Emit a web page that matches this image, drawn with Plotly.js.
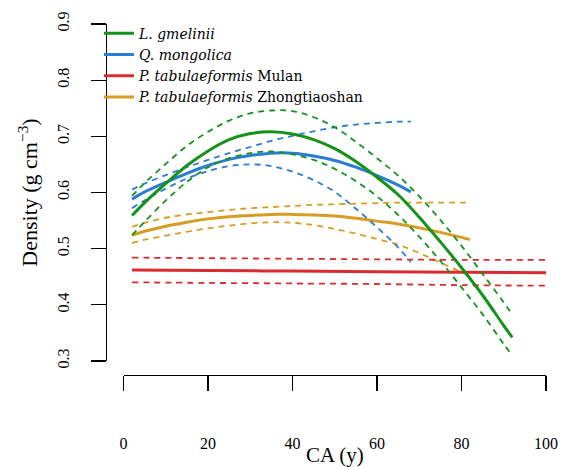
<!DOCTYPE html>
<html>
<head>
<meta charset="utf-8">
<script src="https://cdn.plot.ly/plotly-3.0.1.min.js"></script>
<style>
  html, body { margin: 0; padding: 0; background: #ffffff; }
  #chart { width: 562px; height: 467px; }
</style>
</head>
<body>
<div id="chart"></div>
<script>
// Wood density against cambial age (CA): fitted curve with dashed confidence bands

// Larix gmelinii
const ageGmelinii = [2, 5, 10, 15, 20, 25, 30, 35, 40, 45, 50, 55, 60, 65, 70, 75, 80, 85, 90, 92];
const fitGmelinii = [0.559, 0.582, 0.616, 0.648, 0.674, 0.694, 0.705, 0.708, 0.704, 0.694, 0.678, 0.655, 0.627, 0.596, 0.556, 0.512, 0.466, 0.417, 0.363, 0.342];
const upGmelinii  = [0.594, 0.617, 0.651, 0.683, 0.708, 0.728, 0.741, 0.746, 0.745, 0.734, 0.716, 0.690, 0.661, 0.630, 0.593, 0.551, 0.505, 0.455, 0.404, 0.383];
const lowGmelinii = [0.524, 0.548, 0.586, 0.619, 0.645, 0.661, 0.670, 0.673, 0.668, 0.658, 0.642, 0.620, 0.593, 0.560, 0.521, 0.478, 0.431, 0.383, 0.330, 0.310];

// Quercus mongolica
const ageMongolica = [2, 5, 10, 15, 20, 25, 30, 35, 40, 45, 50, 55, 60, 65, 68];
const fitMongolica = [0.588, 0.601, 0.618, 0.634, 0.648, 0.659, 0.666, 0.670, 0.670, 0.665, 0.657, 0.645, 0.630, 0.613, 0.601];
const upMongolica  = [0.605, 0.616, 0.631, 0.645, 0.658, 0.670, 0.681, 0.692, 0.701, 0.709, 0.716, 0.721, 0.724, 0.726, 0.726];
const lowMongolica = [0.572, 0.586, 0.607, 0.625, 0.638, 0.647, 0.650, 0.647, 0.637, 0.622, 0.601, 0.571, 0.538, 0.502, 0.476];

// Pinus tabulaeformis, Mulan
const ageMulan = [2, 20, 40, 60, 80, 100];
const fitMulan = [0.462, 0.461, 0.460, 0.459, 0.458, 0.457];
const upMulan  = [0.484, 0.483, 0.482, 0.481, 0.480, 0.480];
const lowMulan = [0.440, 0.439, 0.438, 0.437, 0.435, 0.434];

// Pinus tabulaeformis, Zhongtiaoshan
const ageZhong = [2, 5, 10, 15, 20, 25, 30, 35, 40, 45, 50, 55, 60, 65, 70, 75, 80, 82];
const fitZhong = [0.524, 0.531, 0.540, 0.547, 0.553, 0.557, 0.559, 0.561, 0.561, 0.560, 0.558, 0.554, 0.549, 0.544, 0.537, 0.529, 0.520, 0.516];
const upZhong  = [0.539, 0.546, 0.555, 0.561, 0.565, 0.569, 0.572, 0.574, 0.576, 0.578, 0.579, 0.580, 0.581, 0.582, 0.582, 0.582, 0.582, 0.582];
const lowZhong = [0.510, 0.516, 0.523, 0.530, 0.536, 0.541, 0.545, 0.547, 0.546, 0.542, 0.535, 0.527, 0.517, 0.507, 0.492, 0.475, 0.458, 0.451];

const seriesNames = [
  '<i>L. gmelinii</i>',
  '<i>Q. mongolica</i>',
  '<i>P. tabulaeformis</i> Mulan',
  '<i>P. tabulaeformis</i> Zhongtiaoshan'
];

const xTicks = [0, 20, 40, 60, 80, 100];
const yTicks = [0.3, 0.4, 0.5, 0.6, 0.7, 0.8, 0.9];

const SERIF = 'Liberation Serif';
const LEGEND_SERIF = 'DejaVu Serif';

function group(x, fit, up, low, name, color, rank) {
  const dashed = { color: color, width: 1.8, dash: '6px,5px', shape: 'spline', smoothing: 1 };
  return [
    { x: x, y: up,  type: 'scatter', mode: 'lines', line: dashed, showlegend: false, hoverinfo: 'skip' },
    { x: x, y: low, type: 'scatter', mode: 'lines', line: dashed, showlegend: false, hoverinfo: 'skip' },
    { x: x, y: fit, type: 'scatter', mode: 'lines', name: name, legendrank: rank,
      line: { color: color, width: 3, shape: 'spline', smoothing: 1 } }
  ];
}

// Drawn back to front; legend order set through legendrank
const traces = [].concat(
  group(ageZhong, fitZhong, upZhong, lowZhong, seriesNames[3], '#d69d22', 4),
  group(ageMulan, fitMulan, upMulan, lowMulan, seriesNames[2], '#d92b30', 3),
  group(ageMongolica, fitMongolica, upMongolica, lowMongolica, seriesNames[1], '#2a7dd2', 2),
  group(ageGmelinii, fitGmelinii, upGmelinii, lowGmelinii, seriesNames[0], '#14921a', 1)
);

const layout = {
  width: 562,
  height: 467,
  margin: { l: 106, r: 16, t: 24, b: 92, pad: 0 },
  paper_bgcolor: '#ffffff',
  plot_bgcolor: '#ffffff',
  font: { family: SERIF, color: '#000000', size: 15 },
  showlegend: true,
  legend: {
    x: -0.016, y: 1.018, xanchor: 'left', yanchor: 'top',
    bgcolor: 'rgba(0,0,0,0)',
    font: { family: LEGEND_SERIF, size: 14, color: '#000000' },
    itemwidth: 30,
    tracegroupgap: 0
  },
  xaxis: {
    domain: [0.04, 1],
    range: [0, 100],
    anchor: 'free',
    position: 0,
    showline: true, linecolor: '#000000', linewidth: 1.3,
    ticks: 'outside', ticklen: 15, tickwidth: 1.3, tickcolor: '#000000',
    tickvals: xTicks,
    ticktext: xTicks.map(String),
    ticklabelstandoff: 38,
    tickfont: { family: SERIF, size: 16, color: '#000000' },
    showgrid: false, zeroline: false,
    title: { text: 'CA (y)', font: { family: SERIF, size: 21 }, standoff: 8 }
  },
  yaxis: {
    domain: [0.04, 1],
    range: [0.3, 0.9],
    anchor: 'free',
    position: 0,
    showline: true, linecolor: '#000000', linewidth: 1.3,
    ticks: 'outside', ticklen: 15, tickwidth: 1.3, tickcolor: '#000000',
    tickvals: yTicks,
    ticktext: yTicks.map(v => v.toFixed(1)),
    tickangle: -90,
    ticklabelstandoff: 16,
    tickfont: { family: SERIF, size: 16, color: '#000000' },
    showgrid: false, zeroline: false,
    title: { text: 'Density (g cm<sup>−3</sup>)', font: { family: SERIF, size: 22 }, standoff: 9 }
  }
};

Plotly.newPlot('chart', traces, layout, { displayModeBar: false, staticPlot: true });
</script>
</body>
</html>
